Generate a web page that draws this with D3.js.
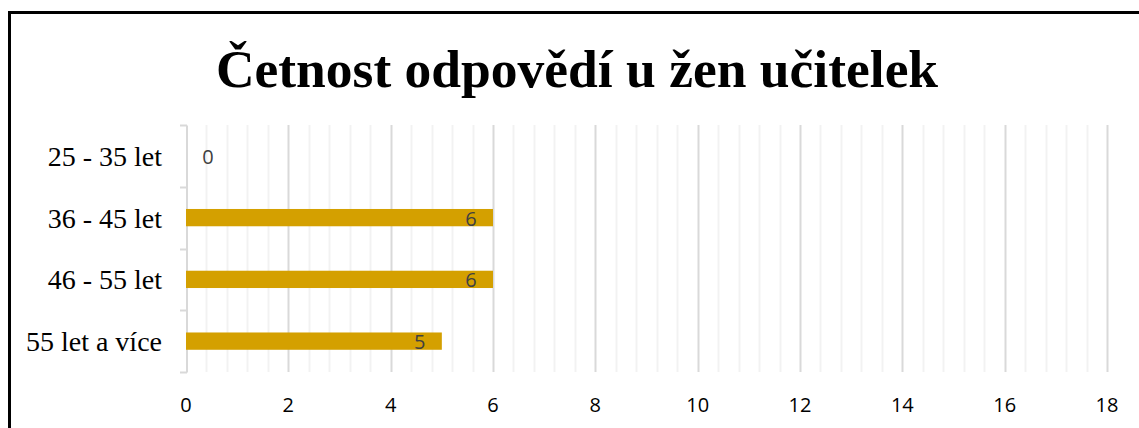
<!DOCTYPE html>
<html>
<head>
<meta charset="utf-8">
<script src="https://cdn.jsdelivr.net/npm/d3@7"></script>
<style>
  body { margin: 0; background: #fff; }
</style>
</head>
<body>
<script>
var width = 1139
var height = 428

var title = 'Četnost odpovědí u žen učitelek'
var categories = ['25 - 35 let', '36 - 45 let', '46 - 55 let', '55 let a více']
var values = [0, 6, 6, 5]
var xTicks = [0, 2, 4, 6, 8, 10, 12, 14, 16, 18]

var svg = d3.select('body')
  .append('svg')
  .attr('width', width)
  .attr('height', height)

// frame (right and bottom edges fall outside the picture)
svg.append('rect')
  .attr('x', 9.5)
  .attr('y', 12.5)
  .attr('width', 1140)
  .attr('height', 430)
  .attr('fill', '#fff')
  .attr('stroke', '#000')
  .attr('stroke-width', 3)

svg.append('text')
  .attr('x', 577)
  .attr('y', 87)
  .attr('text-anchor', 'middle')
  .attr('font-family', '"Liberation Serif", "Times New Roman", serif')
  .attr('font-weight', 'bold')
  .attr('font-size', 53.5)
  .text(title)

var x = d3.scaleLinear().domain([0, 18]).range([186, 1107])
var y = d3.scaleBand().domain(categories).range([125, 372]).paddingInner(0.72).paddingOuter(0.36)
var band = d3.scaleBand().domain(categories).range([125, 372])

// minor gridlines
var minor = d3.range(0, 18.01, 0.4).filter(function(d){ return Math.abs(d / 2 - Math.round(d / 2)) > 0.01 })
svg.selectAll('.minor')
  .data(minor)
  .enter()
  .append('line')
  .attr('x1', function(d){ return Math.round(x(d)) + 0.5 })
  .attr('x2', function(d){ return Math.round(x(d)) + 0.5 })
  .attr('y1', 125)
  .attr('y2', 372)
  .attr('stroke', '#f2f2f2')
  .attr('stroke-width', 2)

// major gridlines
svg.selectAll('.major')
  .data(xTicks.slice(1))
  .enter()
  .append('line')
  .attr('x1', function(d){ return Math.round(x(d)) + 0.5 })
  .attr('x2', function(d){ return Math.round(x(d)) + 0.5 })
  .attr('y1', 125)
  .attr('y2', 372)
  .attr('stroke', '#d9d9d9')
  .attr('stroke-width', 2)

// category axis
var yAxis = svg.append('g')
  .attr('transform', 'translate(186.5,0)')
  .call(d3.axisLeft(band).tickSize(0).tickFormat(''))
yAxis.select('.domain').attr('stroke', '#d9d9d9').attr('stroke-width', 2)
svg.selectAll('.ytick')
  .data(d3.range(categories.length + 1))
  .enter()
  .append('line')
  .attr('x1', 180)
  .attr('x2', 187)
  .attr('y1', function(i){ return Math.round(125 + i * band.step()) + 0.5 })
  .attr('y2', function(i){ return Math.round(125 + i * band.step()) + 0.5 })
  .attr('stroke', '#d9d9d9')
  .attr('stroke-width', 2)

svg.selectAll('.ylabel')
  .data(categories)
  .enter()
  .append('text')
  .attr('x', 162)
  .attr('y', function(d){ return band(d) + band.bandwidth() / 2 + 10 })
  .attr('text-anchor', 'end')
  .attr('font-family', '"Liberation Serif", "Times New Roman", serif')
  .attr('font-size', 28)
  .attr('fill', '#000')
  .text(function(d){ return d })

// bars
svg.selectAll('.bar')
  .data(values)
  .enter()
  .append('rect')
  .attr('x', x(0))
  .attr('y', function(d, i){ return y(categories[i]) })
  .attr('width', function(d){ return x(d) - x(0) })
  .attr('height', y.bandwidth())
  .attr('fill', '#d4a000')

// data labels
svg.selectAll('.vlabel')
  .data(values)
  .enter()
  .append('text')
  .attr('x', function(d){ return d > 0 ? x(d) - 22 : x(0) + 22 })
  .attr('y', function(d, i){ return band(categories[i]) + band.bandwidth() / 2 + 8 })
  .attr('text-anchor', 'middle')
  .attr('font-family', '"Open Sans", "Noto Sans", sans-serif')
  .attr('font-size', 20)
  .attr('fill', '#404040')
  .text(function(d){ return d })

// value axis labels
svg.selectAll('.xlabel')
  .data(xTicks)
  .enter()
  .append('text')
  .attr('x', function(d){ return x(d) })
  .attr('y', 412)
  .attr('text-anchor', 'middle')
  .attr('font-family', '"Open Sans", "Noto Sans", sans-serif')
  .attr('font-size', 20)
  .attr('fill', '#000')
  .text(function(d){ return d })
</script>
</body>
</html>
